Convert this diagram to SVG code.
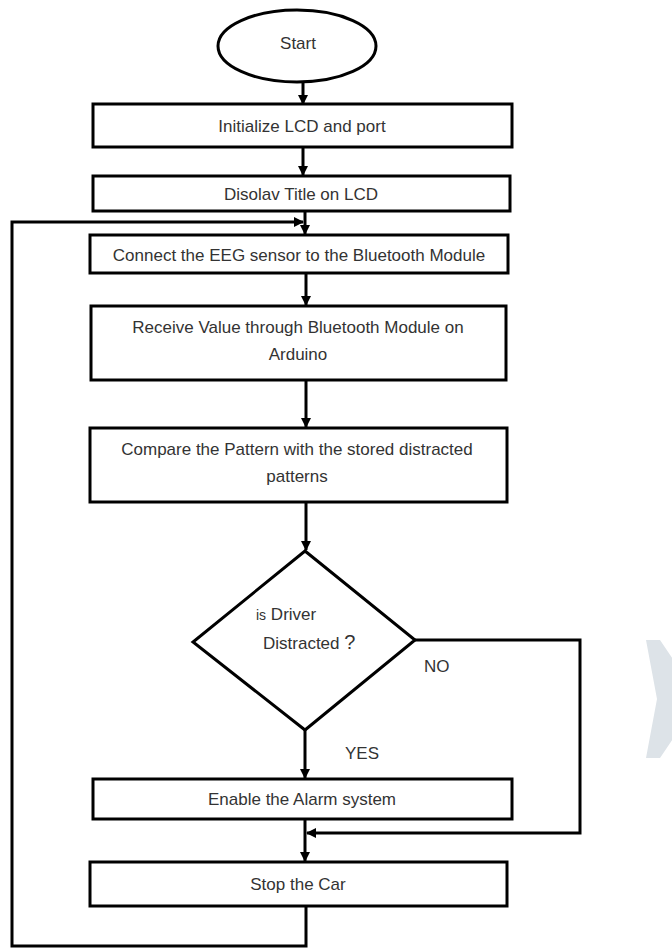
<svg xmlns="http://www.w3.org/2000/svg" width="672" height="949" viewBox="0 0 672 949">
<defs>
<marker id="ah" markerWidth="10" markerHeight="10" refX="9" refY="5" orient="auto" markerUnits="userSpaceOnUse">
<path d="M0,0 L10,5 L0,10 z" fill="#000"/>
</marker>
<style>
.box{fill:#fff;stroke:#000;stroke-width:3}
.ln{fill:none;stroke:#000;stroke-width:3}
.t{font-family:"Liberation Sans",Arial,sans-serif;font-size:17px;fill:#333;text-anchor:middle}
.tl{font-family:"Liberation Sans",Arial,sans-serif;font-size:17px;fill:#333}
</style>
</defs>
<rect width="672" height="949" fill="#fff"/>
<polygon points="646,640 660,640 700,699 660,758 646,758 657,699" fill="#dde3e8"/>
<g id="connectors">
<line class="ln" x1="303" y1="82" x2="303" y2="104" marker-end="url(#ah)"/>
<line class="ln" x1="303" y1="147" x2="303" y2="175" marker-end="url(#ah)"/>
<line class="ln" x1="305" y1="211" x2="305" y2="234" marker-end="url(#ah)"/>
<line class="ln" x1="306" y1="273" x2="306" y2="305" marker-end="url(#ah)"/>
<line class="ln" x1="306" y1="380" x2="306" y2="427" marker-end="url(#ah)"/>
<line class="ln" x1="306" y1="502" x2="306" y2="550" marker-end="url(#ah)"/>
<line class="ln" x1="305" y1="730" x2="305" y2="778" marker-end="url(#ah)"/>
<line class="ln" x1="305" y1="819" x2="305" y2="861" marker-end="url(#ah)"/>
<polyline class="ln" points="415,640 580,640 580,833 307,833" marker-end="url(#ah)"/>
<polyline class="ln" points="306,906 306,946 12,946 12,222 303,222" marker-end="url(#ah)"/>
</g>
<g id="start">
<ellipse cx="297" cy="46" rx="79" ry="36" class="box"/>
<text class="t" x="298" y="49">Start</text>
</g>
<g id="init">
<rect class="box" x="93" y="104" width="419" height="43"/>
<text class="t" x="302" y="132">Initialize LCD and port</text>
</g>
<g id="display">
<rect class="box" x="93" y="176" width="417" height="35"/>
<text class="t" x="301" y="200">Disolav Title on LCD</text>
</g>
<g id="connect">
<rect class="box" x="90" y="235" width="418" height="38"/>
<text class="t" x="299" y="261">Connect the EEG sensor to the Bluetooth Module</text>
</g>
<g id="receive">
<rect class="box" x="91" y="306" width="415" height="74"/>
<text class="t" x="298" y="333">Receive Value through Bluetooth Module on</text>
<text class="t" x="298" y="360">Arduino</text>
</g>
<g id="compare">
<rect class="box" x="90" y="428" width="417" height="74"/>
<text class="t" x="297" y="455">Compare the Pattern with the stored distracted</text>
<text class="t" x="297" y="482">patterns</text>
</g>
<g id="decision">
<polygon class="box" points="305,551 415,640 305,730 193,642"/>
<text class="tl" x="256" y="620"><tspan font-size="14">is</tspan> Driver</text>
<text class="tl" x="263" y="649">Distracted <tspan font-size="20">?</tspan></text>
<text class="tl" x="424" y="672">NO</text>
<text class="tl" x="345" y="759">YES</text>
</g>
<g id="alarm">
<rect class="box" x="93" y="779" width="419" height="40"/>
<text class="t" x="302" y="805">Enable the Alarm system</text>
</g>
<g id="stop">
<rect class="box" x="90" y="862" width="417" height="44"/>
<text class="t" x="298" y="890">Stop the Car</text>
</g>
</svg>
